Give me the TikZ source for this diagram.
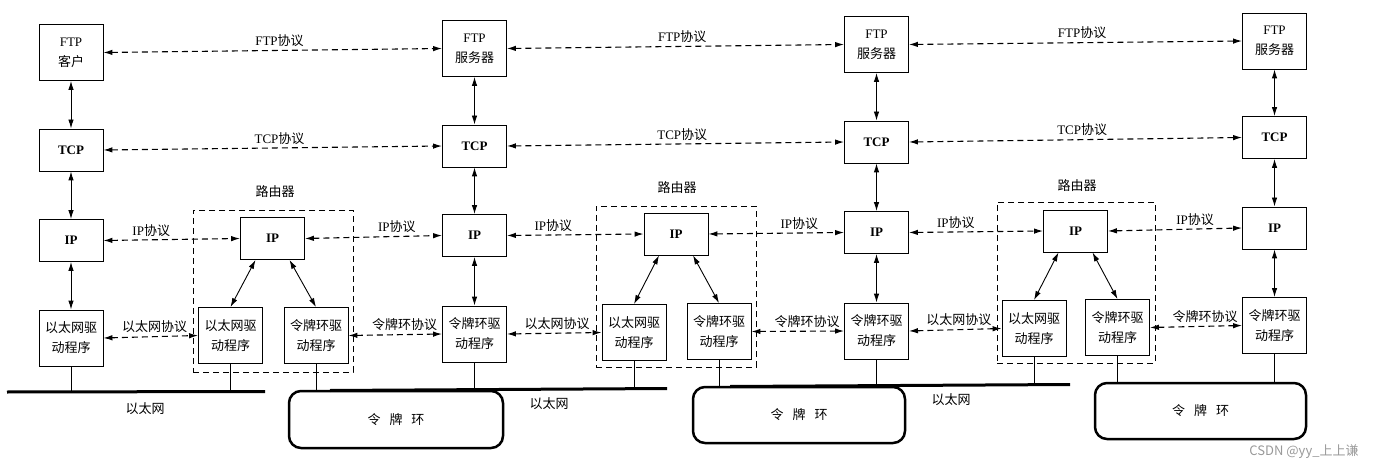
\documentclass[tikz,border=0pt]{standalone}
\usepackage{fontspec}
\setmainfont{Liberation Serif}
\newfontfamily\cjk{Noto Sans CJK SC}
\usetikzlibrary{arrows.meta}
\newcommand\zh[1]{{\cjk #1}}
\begin{document}
\begin{tikzpicture}[x=1pt,y=-1pt,
  txt/.style={font=\fontsize{13}{20}\selectfont},
  box/.style={draw, line width=0.9pt, minimum width=64pt, align=center, inner sep=1pt, txt},
  tallbox/.style={box, minimum height=56pt},
  lowbox/.style={box, minimum height=42pt, font=\fontsize{13}{20}\selectfont\bfseries},
  tip/.tip={Latex[length=9pt,width=5.5pt]},
  proto/.style={line width=1.1pt, dash pattern=on 6pt off 4pt, tip-tip},
  link/.style={line width=0.9pt, tip-tip},
  lbl/.style={txt, above=2pt, inner sep=1pt},
  router/.style={draw, line width=0.8pt, dash pattern=on 6pt off 4pt},
  ether/.style={line width=3pt},
  ring/.style={draw, line width=2.5pt, rounded corners=12pt, txt},
  drop/.style={line width=0.8pt}]
\useasboundingbox (0,0) rectangle (1391,470);

% router frames
\node[router, minimum width=160pt, minimum height=162pt] (r1box) at (273,291) {};
\node[router, minimum width=160pt, minimum height=161pt] (r2box) at (676,286.5) {};
\node[router, minimum width=158pt, minimum height=161pt] (r3box) at (1076,282.5) {};
\node[txt] (r1lbl) at (275,192) {\zh{路由器}};
\node[txt] (r2lbl) at (677,188) {\zh{路由器}};
\node[txt] (r3lbl) at (1077,186) {\zh{路由器}};

% column 1: FTP client
\node[tallbox] (c1ftp) at (71,52.5) {FTP\\\zh{客户}};
\node[lowbox]  (c1tcp) at (71,150) {TCP};
\node[lowbox]  (c1ip)  at (71,240.5) {IP};
\node[tallbox] (c1eth) at (71,338) {\zh{以太网驱}\\\zh{动程序}};

% column 2
\node[tallbox] (c2ftp) at (474.5,48.5) {FTP\\\zh{服务器}};
\node[lowbox]  (c2tcp) at (474.5,146) {TCP};
\node[lowbox]  (c2ip)  at (474.5,235.5) {IP};
\node[tallbox] (c2tr)  at (474.5,334) {\zh{令牌环驱}\\\zh{动程序}};

% column 3
\node[tallbox] (c3ftp) at (876.5,44.5) {FTP\\\zh{服务器}};
\node[lowbox]  (c3tcp) at (876.5,142) {TCP};
\node[lowbox]  (c3ip)  at (876.5,232.5) {IP};
\node[tallbox] (c3tr)  at (876.5,331) {\zh{令牌环驱}\\\zh{动程序}};

% column 4
\node[tallbox] (c4ftp) at (1274.5,41) {FTP\\\zh{服务器}};
\node[lowbox]  (c4tcp) at (1274.5,137.5) {TCP};
\node[lowbox]  (c4ip)  at (1274.5,228) {IP};
\node[tallbox] (c4tr)  at (1274.5,325.5) {\zh{令牌环驱}\\\zh{动程序}};

% routers
\node[lowbox]  (r1ip)  at (272.5,238.5) {IP};
\node[tallbox] (r1eth) at (230.5,335.5) {\zh{以太网驱}\\\zh{动程序}};
\node[tallbox] (r1tr)  at (316,335.5) {\zh{令牌环驱}\\\zh{动程序}};
\node[lowbox]  (r2ip)  at (676,234) {IP};
\node[tallbox] (r2eth) at (634,332.5) {\zh{以太网驱}\\\zh{动程序}};
\node[tallbox] (r2tr)  at (719,331.5) {\zh{令牌环驱}\\\zh{动程序}};
\node[lowbox]  (r3ip)  at (1075.5,231) {IP};
\node[tallbox] (r3eth) at (1034,328.5) {\zh{以太网驱}\\\zh{动程序}};
\node[tallbox] (r3tr)  at (1117.5,327.5) {\zh{令牌环驱}\\\zh{动程序}};

% networks
\draw[ether] (7,392) coordinate (e1a) -- (265,391.5) coordinate (e1b);
\draw[ether] (330,390.5) coordinate (e2a) -- (667,388.5) coordinate (e2b);
\draw[ether] (730,386.5) coordinate (e3a) -- (1070,384.5) coordinate (e3b);
\node[txt] (e1lbl) at (145,409) {\zh{以太网}};
\node[txt] (e2lbl) at (549,404) {\zh{以太网}};
\node[txt] (e3lbl) at (951,400) {\zh{以太网}};
\node[ring, minimum width=214pt, minimum height=57pt] (t1) at (396,419.5) {\zh{令\hspace{9pt}牌\hspace{9pt}环}};
\node[ring, minimum width=212pt, minimum height=56pt] (t2) at (799,415) {\zh{令\hspace{9pt}牌\hspace{9pt}环}};
\node[ring, minimum width=211pt, minimum height=56pt] (t3) at (1200.5,411) {\zh{令\hspace{9pt}牌\hspace{9pt}环}};

% drops
\draw[drop] (c1eth.south) -- (c1eth.south |- e1a);
\draw[drop] (r1eth.south) -- (r1eth.south |- e1a);
\draw[drop] (r1tr.south) -- (r1tr.south |- t1.north);
\draw[drop] (c2tr.south) -- (c2tr.south |- t1.north);
\draw[drop] (r2eth.south) -- (r2eth.south |- e2b);
\draw[drop] (r2tr.south) -- (r2tr.south |- t2.north);
\draw[drop] (c3tr.south) -- (c3tr.south |- t2.north);
\draw[drop] (r3eth.south) -- (r3eth.south |- e3b);
\draw[drop] (r3tr.south) -- (r3tr.south |- t3.north);
\draw[drop] (c4tr.south) -- (c4tr.south |- t3.north);

% vertical links
\foreach \c/\d in {c1/eth, c2/tr, c3/tr, c4/tr} {
  \draw[link] (\c ftp.south) -- (\c tcp.north);
  \draw[link] (\c tcp.south) -- (\c ip.north);
  \draw[link] (\c ip.south) -- (\c\d.north);
}
\draw[link] ([xshift=-17pt]r1ip.south) -- (r1eth.north);
\draw[link] ([xshift=17pt]r1ip.south) -- (r1tr.north);
\draw[link] ([xshift=-17pt]r2ip.south) -- (r2eth.north);
\draw[link] ([xshift=17pt]r2ip.south) -- (r2tr.north);
\draw[link] ([xshift=-17pt]r3ip.south) -- (r3eth.north);
\draw[link] ([xshift=17pt]r3ip.south) -- (r3tr.north);

% protocol arrows
\draw[proto] (c1ftp.east) -- node[lbl, pos=0.52] {FTP\zh{协议}} (c2ftp.west);
\draw[proto] (c2ftp.east) -- node[lbl, pos=0.52] {FTP\zh{协议}} (c3ftp.west);
\draw[proto] (c3ftp.east) -- node[lbl, pos=0.52] {FTP\zh{协议}} (c4ftp.west);
\draw[proto] (c1tcp.east) -- node[lbl, pos=0.52] {TCP\zh{协议}} (c2tcp.west);
\draw[proto] (c2tcp.east) -- node[lbl, pos=0.52] {TCP\zh{协议}} (c3tcp.west);
\draw[proto] (c3tcp.east) -- node[lbl, pos=0.52] {TCP\zh{协议}} (c4tcp.west);

\draw[proto] (c1ip.east) -- node[lbl, pos=0.35] {IP\zh{协议}} (r1ip.west);
\draw[proto] (r1ip.east) -- node[lbl, pos=0.67] {IP\zh{协议}} (c2ip.west);
\draw[proto] (c2ip.east) -- node[lbl, pos=0.34] {IP\zh{协议}} (r2ip.west);
\draw[proto] (r2ip.east) -- node[lbl, pos=0.67] {IP\zh{协议}} (c3ip.west);
\draw[proto] (c3ip.east) -- node[lbl, pos=0.35] {IP\zh{协议}} (r3ip.west);
\draw[proto] (r3ip.east) -- node[lbl, pos=0.65] {IP\zh{协议}} (c4ip.west);

\draw[proto] (c1eth.east) -- node[lbl, pos=0.54] {\zh{以太网协议}} (r1eth.west);
\draw[proto] (r1tr.east) -- node[lbl, pos=0.6] {\zh{令牌环协议}} (c2tr.west);
\draw[proto] (c2tr.east) -- node[lbl, pos=0.53] {\zh{以太网协议}} (r2eth.west);
\draw[proto] (r2tr.east) -- node[lbl, pos=0.6] {\zh{令牌环协议}} (c3tr.west);
\draw[proto] (c3tr.east) -- node[lbl, pos=0.54] {\zh{以太网协议}} (r3eth.west);
\draw[proto] (r3tr.east) -- node[lbl, pos=0.6] {\zh{令牌环协议}} (c4tr.west);

% watermark
\node[font=\cjk\fontsize{13}{15}\selectfont, text=black!40] (wm) at (1304,452) {CSDN @yy\_上上谦};
\end{tikzpicture}
\end{document}
